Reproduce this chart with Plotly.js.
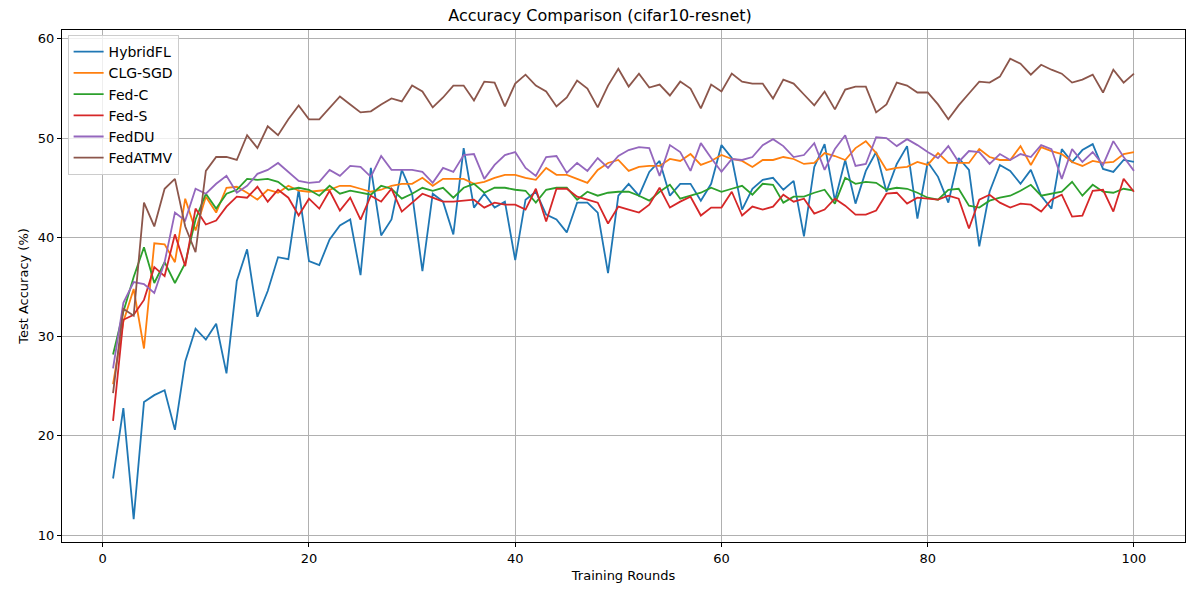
<!DOCTYPE html><html><head><script src="https://cdn.plot.ly/plotly-3.0.1.min.js"></script></head><body style="margin:0"><div id="c" style="width:1200px;height:600px"></div><script>
const rounds = Array.from({length:100},(_,i)=>i+1);
const hybridFL=[15.7,22.8,11.6,23.4,24.1,24.6,20.6,27.5,30.8,29.7,31.3,26.3,35.6,38.8,32.0,34.6,38.0,37.8,44.8,37.6,37.2,39.8,41.2,41.8,36.2,47.0,40.2,41.8,46.8,44.4,36.6,44.4,43.6,40.3,49.0,43.0,44.4,43.0,43.6,37.7,43.8,44.6,42.3,41.8,40.5,43.5,43.5,42.5,36.4,44.2,45.4,44.2,46.6,47.7,44.2,45.4,45.4,43.7,45.4,49.3,48.0,42.8,44.9,45.8,46.0,44.8,45.7,40.1,47.1,49.4,43.7,47.8,43.4,46.7,48.6,44.6,47.4,49.2,41.9,47.6,46.1,43.5,48.0,46.8,39.1,44.6,47.3,46.7,45.4,46.8,44.2,42.9,48.9,47.6,48.8,49.4,46.9,46.6,47.8,47.6];
const clgSGD=[25.2,31.5,34.8,28.8,39.4,39.3,37.5,43.9,40.7,44.1,42.5,45.0,45.1,44.5,43.8,44.8,44.5,45.2,44.7,44.6,44.7,44.8,45.2,45.2,44.9,44.6,44.8,45.2,45.4,45.4,46.0,45.2,45.9,45.9,45.9,45.4,45.6,46.0,46.3,46.3,46.0,45.8,47.0,46.3,46.3,45.9,45.5,46.8,47.5,47.8,46.7,47.1,47.2,47.2,47.9,47.7,48.4,47.3,47.7,48.3,47.9,47.7,47.1,47.8,47.8,48.1,47.9,47.4,47.5,48.5,48.2,47.8,49.0,49.7,48.5,46.8,47.0,47.1,47.6,47.3,48.5,47.5,47.5,47.5,48.9,48.1,47.8,47.8,49.2,47.3,49.1,48.7,48.4,47.6,47.2,47.7,47.5,47.6,48.4,48.6];
const fedC=[28.2,32.5,36.0,39.0,35.4,37.5,35.4,37.4,41.8,44.4,42.9,44.4,44.8,45.9,45.8,45.9,45.6,44.8,45.0,44.8,44.2,45.2,44.4,44.7,44.5,44.3,45.2,44.9,43.9,44.4,45.0,44.7,45.0,44.0,45.0,45.4,44.5,45.0,45.0,44.8,44.7,43.5,44.8,45.0,45.0,43.8,44.6,44.2,44.5,44.6,44.6,44.2,43.7,44.6,45.3,43.9,44.2,44.5,45.0,44.6,44.9,45.2,44.3,45.4,45.3,43.5,44.1,44.1,44.5,44.8,43.4,46.0,45.4,45.6,45.5,44.8,45.0,44.9,44.5,44.0,43.8,44.8,44.9,43.2,43.0,43.7,44.0,44.2,44.7,45.3,44.2,44.4,44.6,45.6,44.2,45.3,44.6,44.5,44.9,44.7];
const fedS=[21.5,31.7,32.2,33.7,37.0,36.1,40.3,37.1,42.9,41.3,41.7,43.1,44.1,44.0,45.1,43.6,44.8,44.0,42.2,43.9,42.9,44.7,42.7,44.0,41.8,44.2,43.6,44.9,42.6,43.5,44.4,44.0,43.6,43.6,43.7,43.8,43.0,43.5,43.3,43.3,42.8,44.9,41.6,44.9,44.9,44.1,43.8,43.5,41.4,43.1,42.8,42.5,43.3,45.0,43.0,43.6,44.1,42.2,43.0,43.0,44.6,42.2,43.1,42.8,43.1,44.3,43.6,43.9,42.4,42.8,43.9,43.2,42.3,42.3,42.7,44.4,44.5,43.4,44.0,43.9,43.8,44.2,43.9,40.9,43.8,44.3,43.5,43.0,43.4,43.3,42.6,43.8,44.3,42.1,42.2,44.7,44.8,42.6,45.9,44.6];
const fedDU=[26.8,33.4,35.5,35.3,34.4,37.5,42.5,41.7,44.9,44.4,45.4,46.2,44.5,45.2,46.4,46.8,47.5,46.6,45.7,45.5,45.6,46.8,46.2,47.2,47.1,46.1,48.2,46.8,46.8,46.8,46.6,45.5,47.0,46.6,48.3,48.4,45.9,47.3,48.3,48.6,47.0,46.2,48.1,48.2,46.5,47.5,46.7,48.0,47.0,48.2,48.8,49.1,49.0,46.2,49.3,48.6,46.7,49.5,48.0,46.6,47.9,47.8,48.1,49.3,49.9,49.2,48.1,48.3,49.5,46.8,48.9,50.3,47.2,47.4,50.1,50.0,49.2,49.9,49.3,48.6,48.0,49.2,47.6,48.7,48.6,47.4,48.4,47.8,48.4,48.1,49.3,48.9,45.9,48.9,47.6,48.6,47.3,49.7,48.1,46.7];
const fedATMV=[24.3,32.8,32.1,43.5,41.1,44.9,45.9,41.1,38.5,46.7,48.1,48.1,47.8,50.3,49.0,51.2,50.3,51.9,53.3,51.9,51.9,53.1,54.2,53.4,52.6,52.7,53.4,54.0,53.7,55.3,54.7,53.1,54.1,55.3,55.3,53.8,55.7,55.6,53.2,55.5,56.4,55.3,54.7,53.2,54.1,55.8,55.0,53.1,55.3,57.0,55.2,56.5,55.1,55.4,54.3,55.7,55.0,53.0,55.4,54.7,56.5,55.7,55.5,55.5,54.0,55.9,55.5,54.4,53.3,54.7,52.9,54.9,55.2,55.2,52.6,53.4,55.6,55.3,54.6,54.6,53.4,51.9,53.3,54.5,55.7,55.6,56.2,58.0,57.5,56.4,57.4,56.9,56.5,55.6,55.9,56.4,54.6,56.9,55.6,56.5];
const names=['HybridFL','CLG-SGD','Fed-C','Fed-S','FedDU','FedATMV'];
const series=[hybridFL,clgSGD,fedC,fedS,fedDU,fedATMV];
const colors=['#1f77b4','#ff7f0e','#2ca02c','#d62728','#9467bd','#8c564b'];
const traces=series.map((y,i)=>({x:rounds,y:y,name:names[i],mode:'lines',line:{color:colors[i],width:1.8}}));
const ax={showline:true,mirror:true,linecolor:'#000',linewidth:1,showgrid:true,gridcolor:'#b0b0b0',gridwidth:0.8,zeroline:false,ticks:'outside',ticklen:4,tickcolor:'#000',tickfont:{size:13}};
Plotly.newPlot('c',traces,{
 width:1200,height:600,margin:{l:62,r:15,t:30,b:58},
 font:{family:'DejaVu Sans',color:'#000'},
 title:{text:'Accuracy Comparison (cifar10-resnet)',font:{size:16},x:0.5,y:0.975,yanchor:'middle'},
 xaxis:Object.assign({},ax,{range:[-3.95,104.95],tickvals:[0,20,40,60,80,100],title:{text:'Training Rounds',font:{size:13},standoff:6}}),
 yaxis:Object.assign({},ax,{range:[9.3,60.9],tickvals:[10,20,30,40,50,60],title:{text:'Test Accuracy (%)',font:{size:13},standoff:6}}),
 showlegend:true,
 legend:{x:0.005,y:0.99,xanchor:'left',yanchor:'top',bgcolor:'rgba(255,255,255,0.8)',bordercolor:'#ccc',borderwidth:1,font:{size:14},tracegroupgap:0},
 plot_bgcolor:'#fff',paper_bgcolor:'#fff'
},{displayModeBar:false});
</script></body></html>
